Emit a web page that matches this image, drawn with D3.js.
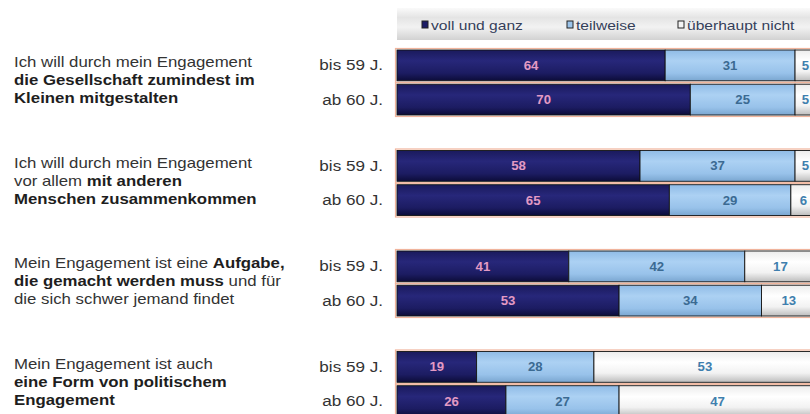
<!DOCTYPE html>
<html>
<head>
<meta charset="utf-8">
<script src="https://cdn.jsdelivr.net/npm/d3@7"></script>
<style>
  body { margin: 0; background: #fff; }
  text { font-family: "Liberation Sans", Arial, sans-serif; }
</style>
</head>
<body>
<div id="chart"></div>
<script>
const WIDTH = 810;
const HEIGHT = 414;

// Aussagen (je Zeile: Segmente [text, fett?])
const statements = [
    [[["Ich will durch mein Engagement", false]],
     [["die Gesellschaft zumindest im", true]],
     [["Kleinen mitgestalten", true]]],
    [[["Ich will durch mein Engagement", false]],
     [["vor allem ", false], ["mit anderen", true]],
     [["Menschen zusammenkommen", true]]],
    [[["Mein Engagement ist eine ", false], ["Aufgabe,", true]],
     [["die gemacht werden muss", true], [" und für", false]],
     [["die sich schwer jemand findet", false]]],
    [[["Mein Engagement ist auch", false]],
     [["eine Form von politischem", true]],
     [["Engagement", true]]]
];
const ageGroups = ["bis 59 J.", "ab 60 J."];
const seriesNames = ["voll und ganz", "teilweise", "überhaupt nicht"];
const vollUndGanz = [64, 70, 58, 65, 41, 53, 19, 26];
const teilweise = [31, 25, 37, 29, 42, 34, 28, 27];
const ueberhauptNicht = [5, 5, 5, 6, 17, 13, 53, 47];

const rows = vollUndGanz.map(function(v, i) {
    return {
        stmt: Math.floor(i / 2),
        age: ageGroups[i % 2],
        "voll und ganz": v,
        "teilweise": teilweise[i],
        "überhaupt nicht": ueberhauptNicht[i]
    };
});

const stack = d3.stack().keys(seriesNames)(rows);

const svg = d3.select("#chart")
    .append("svg")
    .attr("width", WIDTH)
    .attr("height", HEIGHT);

const defs = svg.append("defs");
function vGrad(id, stops) {
    const g = defs.append("linearGradient").attr("id", id)
        .attr("x1", 0).attr("y1", 0).attr("x2", 0).attr("y2", 1);
    stops.forEach(function(s) {
        g.append("stop").attr("offset", s[0]).attr("stop-color", s[1]);
    });
}
vGrad("g0", [[0, "#1a1a5c"], [0.35, "#27277a"], [0.75, "#1c1c62"], [1, "#0c0c38"]]);
vGrad("g1", [[0, "#8fbbe6"], [0.35, "#acd1f3"], [0.75, "#98c2ea"], [1, "#7aa6d0"]]);
vGrad("g2", [[0, "#ececec"], [0.35, "#ffffff"], [0.7, "#f2f2f2"], [1, "#bdbdbd"]]);
vGrad("gLeg", [[0, "#fafafa"], [0.3, "#e4e4e4"], [0.6, "#f2f2f2"], [1, "#d2d2d2"]]);

const colors = { "voll und ganz": "url(#g0)", "teilweise": "url(#g1)", "überhaupt nicht": "url(#g2)" };
const legendColors = { "voll und ganz": "#1c1c66", "teilweise": "#9cc4ea", "überhaupt nicht": "#f4f4f4" };
const labelColors = { "voll und ganz": "#e39ac4", "teilweise": "#3b6a92", "überhaupt nicht": "#3f7fae" };

const x = d3.scaleLinear().domain([0, 100]).range([397, 816]);
const yStmt = d3.scaleBand().domain(d3.range(statements.length)).range([50, 452]);
const yAge = d3.scaleBand().domain(ageGroups).range([0, 65]).paddingInner(0.1);

const SX = 1.2;

// Legende
svg.append("rect")
    .attr("x", 397).attr("y", 8)
    .attr("width", WIDTH - 397).attr("height", 32)
    .attr("fill", "url(#gLeg)");

const legendX = [422, 567, 678];
const legend = svg.selectAll("g.legend")
    .data(seriesNames)
    .enter().append("g")
    .attr("class", "legend")
    .attr("transform", function(d, i) { return `translate(${legendX[i]},25)`; });
legend.append("rect")
    .attr("x", 0).attr("y", -4)
    .attr("width", 6).attr("height", 7)
    .attr("fill", function(d) { return legendColors[d]; })
    .attr("stroke", "#222").attr("stroke-width", 1);
legend.append("text")
    .attr("transform", `translate(9,4.5) scale(${SX},1)`)
    .attr("font-size", 13)
    .attr("fill", "#35405a")
    .text(function(d) { return d; });

// Aussagen links
const stmtG = svg.selectAll("g.stmt")
    .data(statements)
    .enter().append("g")
    .attr("class", "stmt")
    .attr("transform", function(d, i) { return `translate(0,${yStmt(i)})`; });

stmtG.each(function(lines) {
    const g = d3.select(this);
    lines.forEach(function(segs, li) {
        const t = g.append("text")
            .attr("transform", `translate(14,${17 + li * 18}) scale(${SX},1)`)
            .attr("font-size", 14)
            .attr("fill", "#2a2a2a");
        segs.forEach(function(s) {
            t.append("tspan")
                .attr("font-weight", s[1] ? "bold" : "normal")
                .attr("fill", s[1] ? "#1e1e1e" : "#333")
                .text(s[0]);
        });
    });
    ageGroups.forEach(function(a) {
        g.append("text")
            .attr("transform", `translate(383,${yAge(a) + yAge.bandwidth() / 2 + 5}) scale(1.18,1)`)
            .attr("text-anchor", "end")
            .attr("font-size", 14.5)
            .attr("fill", "#333")
            .text(a);
    });
});

// Rahmen (Schein) um Balken
svg.selectAll("rect.glow")
    .data(rows)
    .enter().append("rect")
    .attr("class", "glow")
    .attr("x", x(0) - 1.5)
    .attr("y", function(d) { return yStmt(d.stmt) + yAge(d.age) - 1.5; })
    .attr("width", x(100) - x(0) + 3)
    .attr("height", yAge.bandwidth() + 3)
    .attr("fill", "none")
    .attr("stroke", "#f0b49c")
    .attr("stroke-width", 1.2);

// Balken
const layer = svg.selectAll("g.layer")
    .data(stack)
    .enter().append("g")
    .attr("class", "layer");

layer.selectAll("rect")
    .data(function(s) { return s.map(function(p) { p.key = s.key; return p; }); })
    .enter().append("rect")
    .attr("x", function(p) { return x(p[0]); })
    .attr("y", function(p) { return yStmt(p.data.stmt) + yAge(p.data.age); })
    .attr("width", function(p) { return x(p[1]) - x(p[0]); })
    .attr("height", yAge.bandwidth())
    .attr("fill", function(p) { return colors[p.key]; })
    .attr("stroke", "#141414")
    .attr("stroke-width", 0.9);

layer.selectAll("text")
    .data(function(s) { return s; })
    .enter().append("text")
    .attr("transform", function(p) {
        const cx = (x(p[0]) + x(p[1])) / 2;
        const cy = yStmt(p.data.stmt) + yAge(p.data.age) + yAge.bandwidth() / 2 + 4.5;
        return `translate(${cx},${cy}) scale(1.1,1)`;
    })
    .attr("text-anchor", "middle")
    .attr("font-size", 12)
    .attr("font-weight", "bold")
    .attr("fill", function(p) { return labelColors[p.key]; })
    .text(function(p) { return p[1] - p[0]; });
</script>
</body>
</html>
